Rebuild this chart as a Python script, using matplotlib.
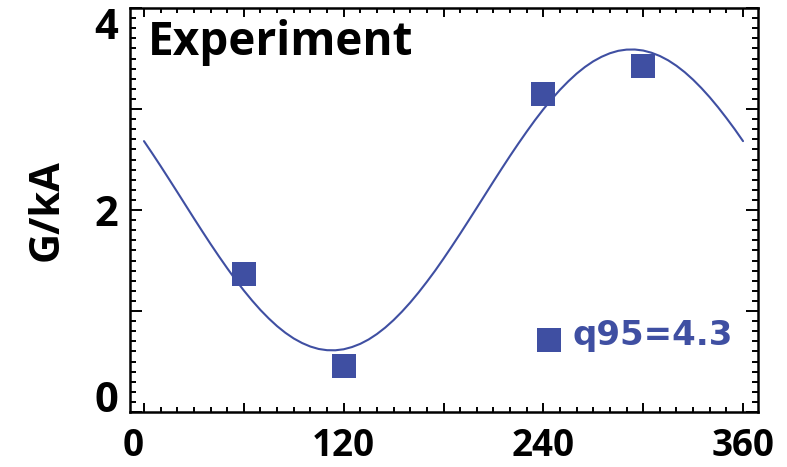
import matplotlib
matplotlib.use("Agg")
import matplotlib.pyplot as plt
from matplotlib.ticker import FixedLocator, MultipleLocator

# Measured field per kA of coil current versus toroidal phase
phase_deg = [60, 120, 240, 300]
g_per_ka = [1.37, 0.46, 3.15, 3.43]

# Sinusoidal fit through the measurements, sampled every 5 degrees
fit_phase = list(range(0, 361, 5))
fit_values = [2.682, 2.560, 2.435, 2.307, 2.178, 2.048, 1.918, 1.790, 1.664,
              1.542, 1.424, 1.310, 1.203, 1.103, 1.010, 0.926, 0.850, 0.784,
              0.728, 0.683, 0.648, 0.624, 0.612, 0.611, 0.621, 0.643, 0.675,
              0.718, 0.772, 0.836, 0.910, 0.993, 1.084, 1.183, 1.289, 1.400,
              1.518, 1.640, 1.765, 1.893, 2.022, 2.152, 2.282, 2.410, 2.536,
              2.658, 2.776, 2.890, 2.997, 3.097, 3.190, 3.274, 3.350, 3.416,
              3.472, 3.517, 3.552, 3.576, 3.588, 3.589, 3.579, 3.557, 3.525,
              3.482, 3.428, 3.364, 3.290, 3.207, 3.116, 3.017, 2.911, 2.800,
              2.682]

x_ticks = [0, 60, 120, 180, 240, 300, 360]
x_ticklabels = ["0", "", "120", "", "240", "", "360"]
y_ticks = [0, 1, 2, 3, 4]
y_ticklabels = ["0", "", "2", "", "4"]

series_label = "q95=4.3"
panel_title = "Experiment"
y_title = "G/kA"

blue = "#3F4FA2"
bold_font = "Open Sans"

fig = plt.figure(figsize=(7.87, 4.67), dpi=100)
ax = fig.add_axes([130 / 787, 55 / 467, 628 / 787, 404 / 467])

ax.plot(fit_phase, fit_values, color=blue, lw=1.5, solid_capstyle="round",
        solid_joinstyle="round")
ax.plot(phase_deg, g_per_ka, linestyle="none", marker="s", markersize=17.5,
        markerfacecolor=blue, markeredgewidth=0)

ax.set_xlim(-8.4, 369)
ax.set_ylim(0, 4)

ax.xaxis.set_major_locator(FixedLocator(x_ticks))
ax.xaxis.set_minor_locator(MultipleLocator(10))
ax.yaxis.set_major_locator(FixedLocator(y_ticks))
ax.yaxis.set_minor_locator(MultipleLocator(0.1))
ax.set_xticklabels(x_ticklabels)
ax.set_yticklabels(y_ticklabels)

for s in ax.spines.values():
    s.set_linewidth(1.8)

ax.tick_params(axis="both", which="both", direction="in", top=True, right=True,
               width=1.4, color="black")
ax.tick_params(axis="x", which="major", length=6.5, pad=11)
ax.tick_params(axis="x", which="minor", length=3.5)
ax.tick_params(axis="y", which="major", length=8.5, pad=8.5)
ax.tick_params(axis="y", which="minor", length=4.5)

for lab in ax.get_xticklabels():
    lab.set_fontfamily(bold_font)
    lab.set_fontweight("bold")
    lab.set_fontsize(26.5)
for lab in ax.get_yticklabels():
    lab.set_fontfamily(bold_font)
    lab.set_fontweight("bold")
    lab.set_fontsize(30)

# end labels are pulled in toward the frame
xt = ax.xaxis.get_major_ticks()
xt[0].label1.set_horizontalalignment("right")
yt = ax.yaxis.get_major_ticks()
yt[0].label1.set_verticalalignment("baseline")
yt[-1].label1.set_verticalalignment("top")

ax.set_ylabel(y_title, fontfamily=bold_font, fontweight="bold", fontsize=30,
              labelpad=19)

ax.text(0.029, 0.884, panel_title, transform=ax.transAxes, ha="left",
        va="baseline", fontfamily=bold_font, fontweight="bold", fontsize=33,
        color="black")

# legend entry: swatch and label
ax.plot([0.667], [0.178], transform=ax.transAxes, linestyle="none", marker="s",
        markersize=17.5, markerfacecolor=blue, markeredgewidth=0, clip_on=False)
ax.text(0.705, 0.166, series_label, transform=ax.transAxes, ha="left",
        va="baseline", fontfamily="DejaVu Sans", fontweight="bold",
        fontsize=24.5, color=blue)

fig.savefig("out.png", dpi=100)
